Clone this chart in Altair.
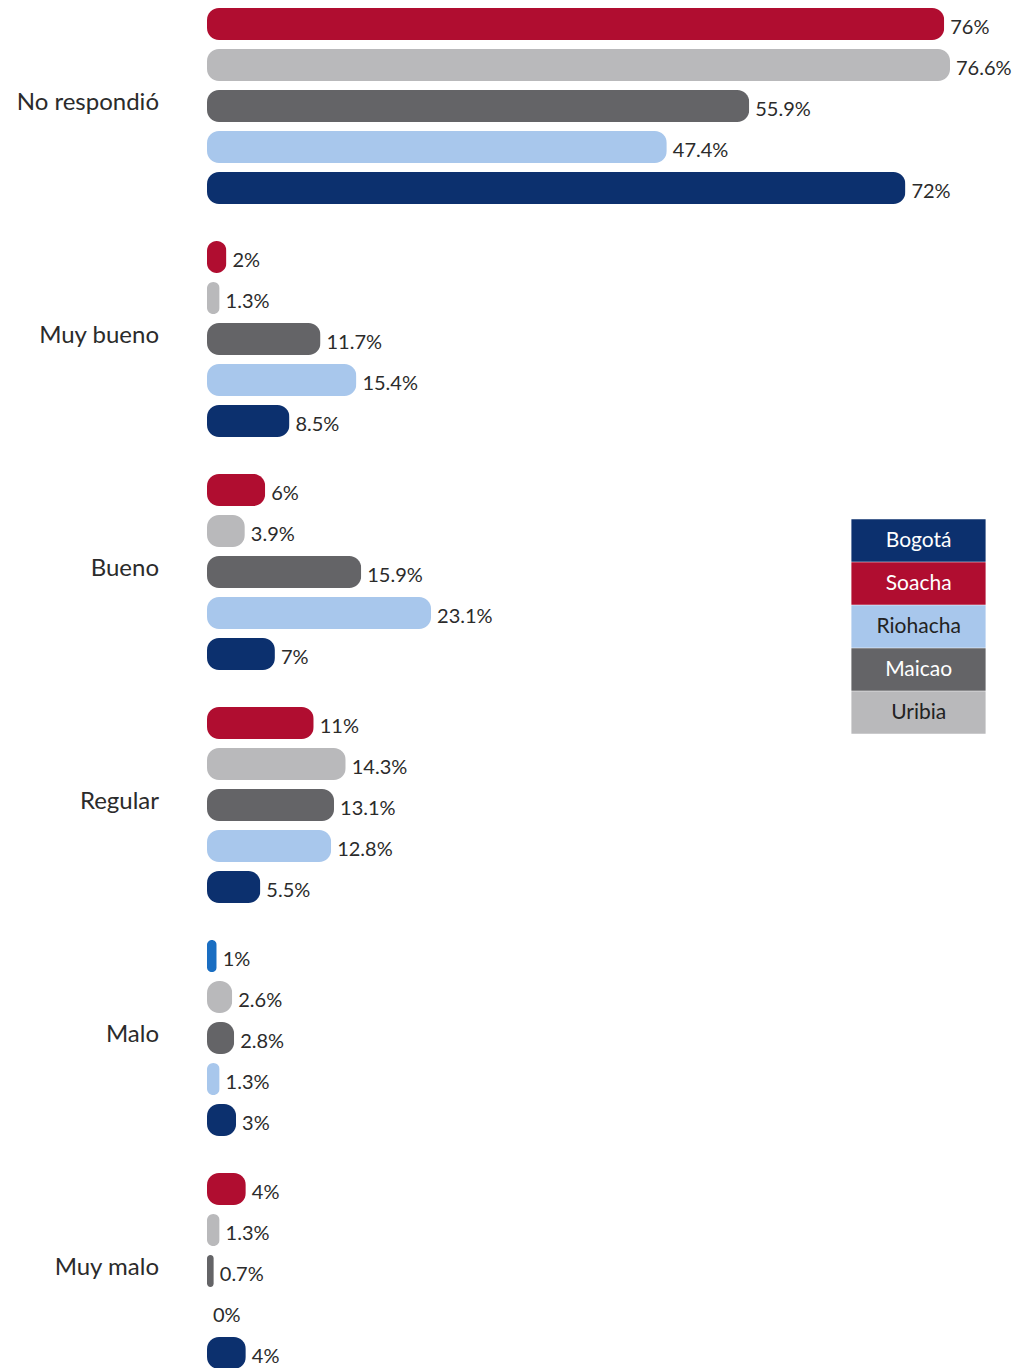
import altair as alt
import pandas as pd

categories = ["No respondió", "Muy bueno", "Bueno", "Regular", "Malo", "Muy malo"]
cities = ["Soacha", "Uribia", "Maicao", "Riohacha", "Bogotá"]
legend_order = ["Bogotá", "Soacha", "Riohacha", "Maicao", "Uribia"]

soacha = [76, 2, 6, 11, 1, 4]
uribia = [76.6, 1.3, 3.9, 14.3, 2.6, 1.3]
maicao = [55.9, 11.7, 15.9, 13.1, 2.8, 0.7]
riohacha = [47.4, 15.4, 23.1, 12.8, 1.3, 0]
bogota = [72, 8.5, 7, 5.5, 3, 4]

city_colors = {
    "Bogotá": "#0c306e",
    "Soacha": "#b00d30",
    "Riohacha": "#a8c7ec",
    "Maicao": "#646467",
    "Uribia": "#b9b9bb",
}
# the original draws the Soacha "Malo" bar in a different blue
odd_bar = ("Malo", "Soacha")
odd_key = "Soacha (Malo)"
odd_color = "#1a6ec2"

series = {"Soacha": soacha, "Uribia": uribia, "Maicao": maicao,
          "Riohacha": riohacha, "Bogotá": bogota}

rows = []
for city in cities:
    for cat, v in zip(categories, series[city]):
        key = odd_key if (cat, city) == odd_bar else city
        rows.append({"category": cat, "city": city, "value": v, "key": key})
df = pd.DataFrame(rows)

FONT = "Lato"
TXT = "#2b2b2b"

color_domain = legend_order + [odd_key]
color_range = [city_colors[c] for c in legend_order] + [odd_color]

y_enc = alt.Y("city:N", sort=cities, axis=None,
              scale=alt.Scale(paddingInner=9 / 41, paddingOuter=0))
x_enc = alt.X("value:Q", axis=None, scale=alt.Scale(domain=[0, 80], nice=False))

bars = alt.Chart().mark_bar(cornerRadius=12).encode(
    x=x_enc,
    y=y_enc,
    color=alt.Color(
        "key:N",
        scale=alt.Scale(domain=color_domain, range=color_range),
        legend=alt.Legend(
            title=None,
            values=legend_order,
            orient="none",
            legendX=690,
            legendY=511,
            symbolType="M-3.15,-1H3.15V1H-3.15Z",
            symbolSize=1815,
            symbolStrokeWidth=0,
            symbolOpacity=1,
            rowPadding=0,
            padding=0,
            labelAlign="center",
            labelOffset={"expr": "-21.3"},
            labelFont=FONT,
            labelFontSize=21,
            labelLimit=300,
            labelColor={"expr": "indexof(['Riohacha','Uribia'], datum.value) >= 0 ? '#222222' : '#ffffff'"},
        ),
    ),
)

labels = alt.Chart().transform_calculate(
    label="format(datum.value, '.1~f') + '%'"
).mark_text(align="left", baseline="middle", dx=6, dy=4,
            font=FONT, fontSize=20, color=TXT).encode(
    x=x_enc, y=y_enc, text="label:N"
)

group_names = alt.Chart().transform_filter(
    alt.datum.city == cities[2]
).mark_text(align="right", baseline="middle", dy=-3,
            font=FONT, fontSize=24, color=TXT).encode(
    x=alt.value(-48), y=y_enc, text="category:N"
)

layer = alt.layer(bars, labels, group_names, data=df).properties(width=776, height=196)

chart = layer.facet(
    row=alt.Row(
        "category:N",
        sort=categories,
        header=alt.Header(title=None, labels=False),
    ),
    spacing=37,
).properties(
    padding={"left": 8, "top": 0, "right": 0, "bottom": 0}
).configure_view(stroke=None)

chart.save("out.html", embed_options={"renderer": "svg", "actions": False})
